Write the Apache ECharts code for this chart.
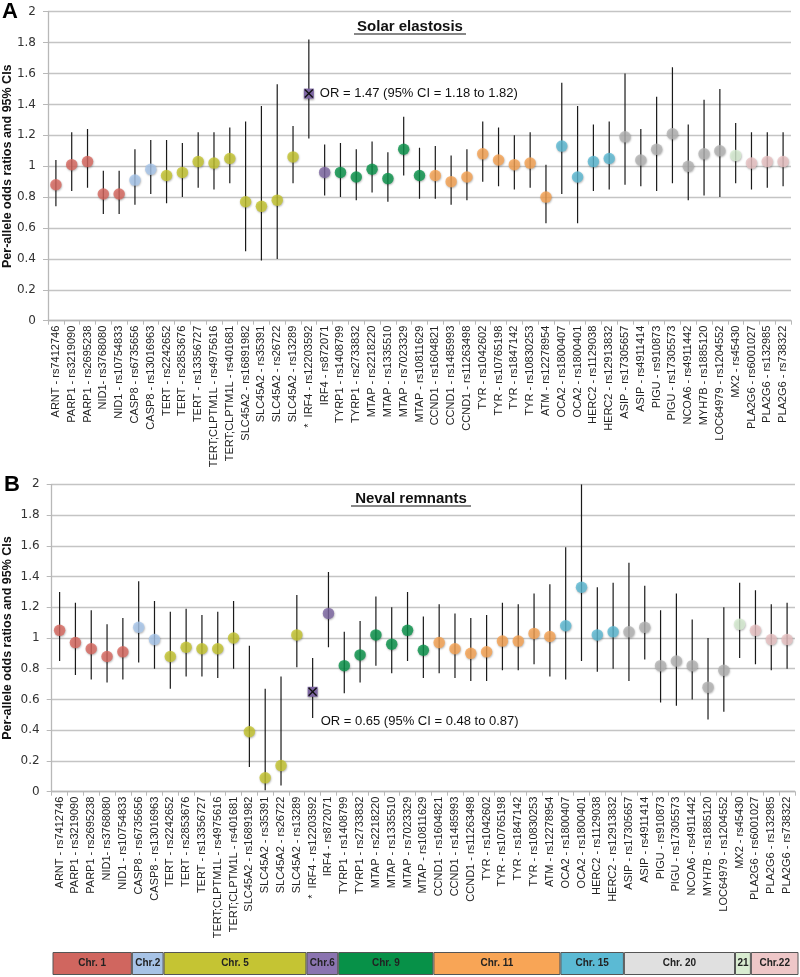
<!DOCTYPE html>
<html>
<head>
<meta charset="utf-8">
<script src="https://cdn.jsdelivr.net/npm/echarts@6.0.0/dist/echarts.min.js"></script>
<style>
  html, body { margin: 0; padding: 0; background: #fff; }
  #main { width: 800px; height: 977px; }
</style>
</head>
<body>
<div id="main"></div>
<script>
// SNPs, in plot order
const snps = [
  'ARNT - rs7412746', 'PARP1 - rs3219090', 'PARP1 - rs2695238', 'NID1- rs3768080', 'NID1 - rs10754833',
  'CASP8 - rs6735656', 'CASP8 - rs13016963',
  'TERT - rs2242652', 'TERT - rs2853676', 'TERT - rs13356727', 'TERT;CLPTM1L - rs4975616', 'TERT;CLPTM1L - rs401681',
  'SLC45A2 - rs16891982', 'SLC45A2 - rs35391', 'SLC45A2 - rs26722', 'SLC45A2 - rs13289',
  'IRF4 - rs12203592', 'IRF4 - rs872071',
  'TYRP1 - rs1408799', 'TYRP1 - rs2733832', 'MTAP - rs2218220', 'MTAP - rs1335510', 'MTAP - rs7023329', 'MTAP - rs10811629',
  'CCND1 - rs1604821', 'CCND1 - rs1485993', 'CCND1 - rs11263498', 'TYR - rs1042602', 'TYR - rs10765198', 'TYR - rs1847142', 'TYR - rs10830253', 'ATM - rs12278954',
  'OCA2 - rs1800407', 'OCA2 - rs1800401', 'HERC2 - rs1129038', 'HERC2 - rs12913832',
  'ASIP - rs17305657', 'ASIP - rs4911414', 'PIGU - rs910873', 'PIGU - rs17305573', 'NCOA6 - rs4911442', 'MYH7B - rs1885120', 'LOC64979 - rs1204552',
  'MX2 - rs45430',
  'PLA2G6 - rs6001027', 'PLA2G6 - rs132985', 'PLA2G6 - rs738322'
];
// chromosome of each SNP
const snpChr = [
  'Chr. 1','Chr. 1','Chr. 1','Chr. 1','Chr. 1',
  'Chr.2','Chr.2',
  'Chr. 5','Chr. 5','Chr. 5','Chr. 5','Chr. 5','Chr. 5','Chr. 5','Chr. 5','Chr. 5',
  'Chr.6','Chr.6',
  'Chr. 9','Chr. 9','Chr. 9','Chr. 9','Chr. 9','Chr. 9',
  'Chr. 11','Chr. 11','Chr. 11','Chr. 11','Chr. 11','Chr. 11','Chr. 11','Chr. 11',
  'Chr. 15','Chr. 15','Chr. 15','Chr. 15',
  'Chr. 20','Chr. 20','Chr. 20','Chr. 20','Chr. 20','Chr. 20','Chr. 20',
  '21',
  'Chr.22','Chr.22','Chr.22'
];
const chromosomes = ['Chr. 1','Chr.2','Chr. 5','Chr.6','Chr. 9','Chr. 11','Chr. 15','Chr. 20','21','Chr.22'];
const chrDotColor = ['#d9685f','#a9c8ee','#c6c52e','#7d66a2','#08934a','#f9a452','#5bbad5','#b4b4b4','#d7edd2','#ebc3c4'];
const chrBarColor = ['#d0665f','#a7c3e6','#c5c433','#8b74b0','#079148','#f8a556','#5bbad4','#e0e0e0','#d9ecd1','#eec7c8'];

// significant SNP (IRF4 - rs12203592), marked with *
const starIndex = 16;

// A: solar elastosis
const orA = [0.88,1.01,1.03,0.82,0.82, 0.91,0.98, 0.94,0.96,1.03,1.02,1.05,0.77,0.74,0.78,1.06, 1.47,0.96,
  0.96,0.93,0.98,0.92,1.11,0.94, 0.94,0.90,0.93,1.08,1.04,1.01,1.02,0.80, 1.13,0.93,1.03,1.05,
  1.19,1.04,1.11,1.21,1.00,1.08,1.10, 1.07, 1.02,1.03,1.03];
const loA = [0.74,0.84,0.86,0.69,0.69, 0.75,0.82, 0.76,0.80,0.86,0.85,0.89,0.45,0.39,0.40,0.89, 1.18,0.81,
  0.80,0.78,0.83,0.77,0.94,0.79, 0.79,0.75,0.78,0.90,0.87,0.85,0.86,0.63, 0.82,0.63,0.84,0.85,
  0.88,0.87,0.84,0.89,0.78,0.81,0.80, 0.89, 0.85,0.86,0.87];
const hiA = [1.04,1.22,1.24,0.97,0.97, 1.11,1.17, 1.17,1.15,1.22,1.22,1.25,1.29,1.39,1.53,1.26, 1.82,1.14,
  1.15,1.11,1.16,1.09,1.32,1.12, 1.13,1.07,1.11,1.29,1.25,1.20,1.22,1.01, 1.54,1.39,1.27,1.29,
  1.60,1.24,1.45,1.64,1.27,1.43,1.50, 1.28, 1.22,1.22,1.22];

// B: neval remnants
const orB = [1.05,0.97,0.93,0.88,0.91, 1.07,0.99, 0.88,0.94,0.93,0.93,1.00,0.39,0.09,0.17,1.02, 0.65,1.16,
  0.82,0.89,1.02,0.96,1.05,0.92, 0.97,0.93,0.90,0.91,0.98,0.98,1.03,1.01, 1.08,1.33,1.02,1.04,
  1.04,1.07,0.82,0.85,0.82,0.68,0.79, 1.09, 1.05,0.99,0.99];
const loB = [0.85,0.76,0.73,0.71,0.73, 0.84,0.80, 0.67,0.75,0.75,0.74,0.80,0.16,0.01,0.04,0.81, 0.48,0.94,
  0.64,0.71,0.82,0.77,0.85,0.74, 0.77,0.74,0.72,0.72,0.79,0.79,0.83,0.75, 0.73,0.85,0.78,0.80,
  0.72,0.86,0.58,0.56,0.60,0.47,0.52, 0.87, 0.83,0.79,0.80];
const hiB = [1.30,1.23,1.18,1.09,1.13, 1.37,1.24, 1.17,1.19,1.15,1.17,1.24,0.95,0.67,0.75,1.28, 0.87,1.43,
  1.04,1.11,1.27,1.20,1.30,1.14, 1.22,1.16,1.13,1.15,1.23,1.22,1.29,1.35, 1.59,2.00,1.33,1.36,
  1.49,1.34,1.18,1.29,1.12,1.00,1.20, 1.36, 1.31,1.22,1.23];

const FONT = "'Liberation Sans', Arial, sans-serif";
const catLabels = snps.map((s, i) => i === starIndex ? '*  ' + s : s);
const dotColor = i => chrDotColor[chromosomes.indexOf(snpChr[i])];

// grids: top panel, bottom panel, chromosome strip
const grids = [
  {left: 48, right: 9, top: 11.7, height: 309, outerBoundsMode: 'none'},
  {left: 51.7, right: 5, top: 484.3, height: 307.4, outerBoundsMode: 'none'},
  {left: 52.5, right: 1.5, top: 952, height: 23, outerBoundsMode: 'none'}
];

function xAxisFor(gi) {
  return {
    type: 'category', gridIndex: gi, data: catLabels,
    axisLine: {lineStyle: {color: '#b8b8b8', width: 1.3}},
    axisTick: {show: true, length: 4, lineStyle: {color: '#b8b8b8'}},
    axisLabel: {rotate: 90, interval: 0, fontSize: 11, fontFamily: FONT, color: '#222', margin: 5}
  };
}
function yAxisFor(gi, gap) {
  return {
    type: 'value', gridIndex: gi, min: 0, max: 2, interval: 0.2,
    name: 'Per-allele odds ratios and 95% CIs', nameLocation: 'middle', nameGap: gap,
    nameMoveOverlap: false,
    nameTextStyle: {fontSize: 12.5, fontWeight: 'bold', fontFamily: FONT, color: '#111'},
    axisLine: {show: true, lineStyle: {color: '#b8b8b8', width: 1.3}},
    axisTick: {show: true, length: 5, lineStyle: {color: '#b8b8b8'}},
    axisLabel: {fontSize: 12, fontFamily: "'DejaVu Sans', sans-serif", color: '#333', margin: 12},
    splitLine: {lineStyle: {color: '#c4c4c4', width: 1.4}}
  };
}

function panelSeries(gi, or, lo, hi, textDx, textDy) {
  const idx = or.map((v, i) => i);
  return [
    { // confidence intervals
      type: 'custom', xAxisIndex: gi, yAxisIndex: gi, clip: true, z: 2,
      data: idx.map(i => [i, lo[i], hi[i]]),
      renderItem: (params, api) => {
        const a = api.coord([api.value(0), api.value(1)]);
        const b = api.coord([api.value(0), api.value(2)]);
        return {type: 'line', shape: {x1: a[0], y1: a[1], x2: b[0], y2: b[1]},
          style: {stroke: '#1a1a1a', lineWidth: 1.2}};
      }
    },
    { // odds ratios
      type: 'scatter', xAxisIndex: gi, yAxisIndex: gi, z: 3, symbolSize: 11.5,
      data: idx.filter(i => i !== starIndex).map(i => ({
        value: [i, or[i]],
        itemStyle: {color: dotColor(i), shadowBlur: 2, shadowColor: 'rgba(0,0,0,0.35)', shadowOffsetX: 0.5, shadowOffsetY: 1}
      }))
    },
    { // significant SNP: square with cross and its label
      type: 'custom', xAxisIndex: gi, yAxisIndex: gi, z: 4,
      data: [[starIndex, or[starIndex], lo[starIndex], hi[starIndex]]],
      renderItem: (params, api) => {
        const p = api.coord([api.value(0), api.value(1)]);
        const s = 5;
        const txt = 'OR = ' + api.value(1).toFixed(2) + ' (95% CI = ' + api.value(2).toFixed(2) +
          ' to ' + api.value(3).toFixed(2) + ')';
        return {type: 'group', children: [
          {type: 'rect', shape: {x: p[0] - s, y: p[1] - s, width: 2 * s, height: 2 * s},
            style: {fill: dotColor(starIndex), shadowBlur: 2, shadowColor: 'rgba(0,0,0,0.35)', shadowOffsetY: 1}},
          {type: 'line', shape: {x1: p[0] - 4, y1: p[1] - 4, x2: p[0] + 4, y2: p[1] + 4}, style: {stroke: '#111', lineWidth: 1.4}},
          {type: 'line', shape: {x1: p[0] - 4, y1: p[1] + 4, x2: p[0] + 4, y2: p[1] - 4}, style: {stroke: '#111', lineWidth: 1.4}},
          {type: 'text', x: p[0] + textDx, y: p[1] + textDy,
            style: {text: txt, fill: '#111', font: '13px ' + FONT, verticalAlign: 'middle', align: 'left'}}
        ]};
      }
    }
  ];
}

// chromosome strip: one stacked bar per chromosome, width = number of SNPs
const chrCounts = chromosomes.map(c => snpChr.filter(x => x === c).length);
const stripSeries = chromosomes.map((c, k) => ({
  type: 'bar', name: c, stack: 'chr', xAxisIndex: 2, yAxisIndex: 2, barWidth: '100%',
  data: [chrCounts[k]],
  itemStyle: {color: chrBarColor[k], borderColor: '#555', borderWidth: 1},
  label: {show: true, position: 'inside', formatter: c, fontSize: 10, fontWeight: 'bold',
    fontFamily: "'Liberation Sans Narrow', " + FONT, color: '#222'}
}));

const option = {
  animation: false,
  backgroundColor: '#fff',
  grid: grids,
  xAxis: [xAxisFor(0), xAxisFor(1),
    {type: 'value', gridIndex: 2, min: 0, max: snps.length, show: false}],
  yAxis: [yAxisFor(0, 34), yAxisFor(1, 37.5),
    {type: 'category', gridIndex: 2, data: ['chr'], show: false}],
  graphic: [
    {type: 'text', left: 2, top: 1, style: {text: 'A', font: 'bold 22px ' + FONT, fill: '#000'}},
    {type: 'text', left: 4, top: 474, style: {text: 'B', font: 'bold 22px ' + FONT, fill: '#000'}},
    {type: 'text', x: 410, y: 27, style: {text: 'Solar elastosis', font: 'bold 15px ' + FONT, fill: '#111', align: 'center', verticalAlign: 'middle'}},
    {type: 'line', shape: {x1: 354, y1: 34, x2: 466, y2: 34}, style: {stroke: '#111', lineWidth: 1.2}},
    {type: 'text', x: 411, y: 499, style: {text: 'Neval remnants', font: 'bold 15px ' + FONT, fill: '#111', align: 'center', verticalAlign: 'middle'}},
    {type: 'line', shape: {x1: 351, y1: 506, x2: 471, y2: 506}, style: {stroke: '#111', lineWidth: 1.2}}
  ],
  series: [].concat(
    panelSeries(0, orA, loA, hiA, 11, 0),
    panelSeries(1, orB, loB, hiB, 8, 30),
    stripSeries
  )
};

let myChart = echarts.init(document.getElementById('main'));
myChart.setOption(option);
</script>
</body>
</html>
